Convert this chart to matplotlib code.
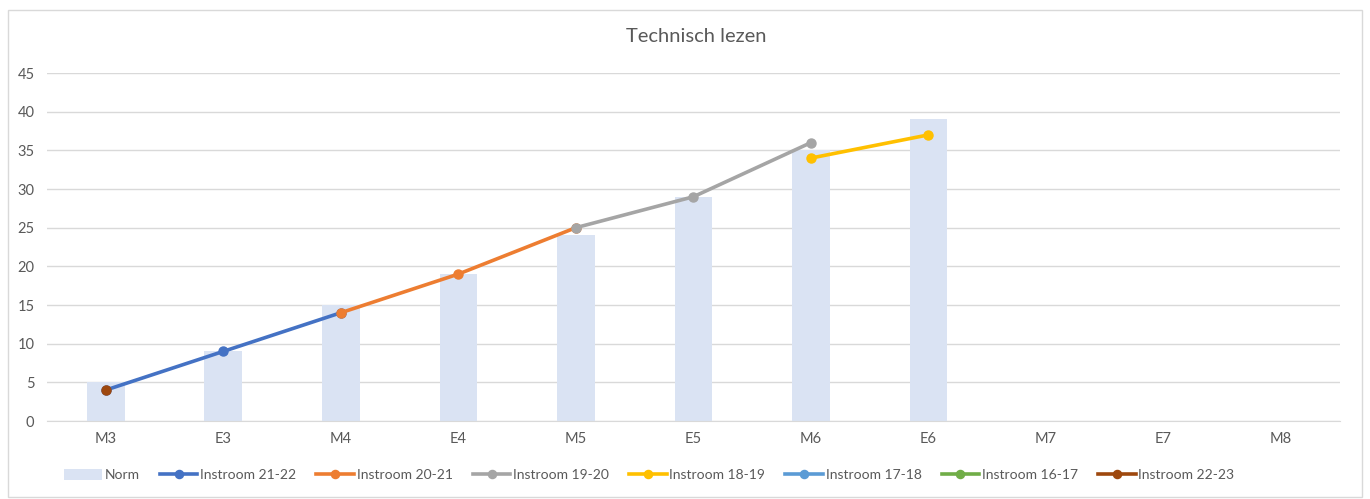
import numpy as np
import matplotlib.pyplot as plt
from matplotlib.patches import Rectangle

nan = np.nan

categorieen = ["M3", "E3", "M4", "E4", "M5", "E5", "M6", "E6", "M7", "E7", "M8"]
norm = [5, 9, 15, 19, 24, 29, 35, 39, nan, nan, nan]

instroom_21_22 = [4, 9, 14, nan, nan, nan, nan, nan, nan, nan, nan]
instroom_20_21 = [nan, nan, 14, 19, 25, nan, nan, nan, nan, nan, nan]
instroom_19_20 = [nan, nan, nan, nan, 25, 29, 36, nan, nan, nan, nan]
instroom_18_19 = [nan, nan, nan, nan, nan, nan, 34, 37, nan, nan, nan]
instroom_17_18 = [nan] * 11
instroom_16_17 = [nan] * 11
instroom_22_23 = [4, nan, nan, nan, nan, nan, nan, nan, nan, nan, nan]

reeksen = [
    ("Instroom 21-22", instroom_21_22, "#4472C4"),
    ("Instroom 20-21", instroom_20_21, "#ED7D31"),
    ("Instroom 19-20", instroom_19_20, "#A5A5A5"),
    ("Instroom 18-19", instroom_18_19, "#FFC000"),
    ("Instroom 17-18", instroom_17_18, "#5B9BD5"),
    ("Instroom 16-17", instroom_16_17, "#70AD47"),
    ("Instroom 22-23", instroom_22_23, "#9E480E"),
]

plt.rcParams["font.family"] = ["Lato", "DejaVu Sans"]

fig = plt.figure(figsize=(13.7, 4.99), dpi=100)
ax = fig.add_axes([0.0343, 0.1563, 0.9437, 0.6974])

x = np.arange(len(categorieen))
handles = []
handles.append(ax.bar(x, norm, width=0.32, color="#DAE3F3", label="Norm", zorder=2))

for naam, waarden, kleur in reeksen:
    lijn, = ax.plot(x, waarden, color=kleur, linewidth=2.6, marker="o", markersize=6.5,
                    label=naam, zorder=3)
    handles.append(lijn)

ax.set_xlim(-0.5, len(categorieen) - 0.5)
ax.set_ylim(0, 45)
ax.set_yticks(range(0, 46, 5))
ax.set_xticks(x)
ax.set_xticklabels(categorieen)
ax.grid(axis="y", color="#D9D9D9", linewidth=1, zorder=0)
ax.tick_params(axis="both", length=0, labelsize=10.5, colors="#595959", pad=8)
ax.tick_params(axis="y", pad=9)
for kant in ["top", "right", "left"]:
    ax.spines[kant].set_visible(False)
ax.spines["bottom"].set_color("#D9D9D9")

fig.text(0.508, 0.926, "Technisch lezen", ha="center", va="center",
         fontsize=14.5, color="#595959")

fig.legend(handles=handles, loc="center left", bbox_to_anchor=(0.047, 0.048), ncol=8,
           frameon=False, fontsize=10, handlelength=2.7, handleheight=0.9,
           handletextpad=0.2, columnspacing=1.45, labelcolor="#595959",
           borderaxespad=0, borderpad=0, markerscale=0.9)

# kader om de grafiek
fig.patches.append(Rectangle((0.006, 0.004), 0.988, 0.976, transform=fig.transFigure,
                             fill=False, edgecolor="#D9D9D9", linewidth=1))

fig.savefig("out.png", dpi=100)
